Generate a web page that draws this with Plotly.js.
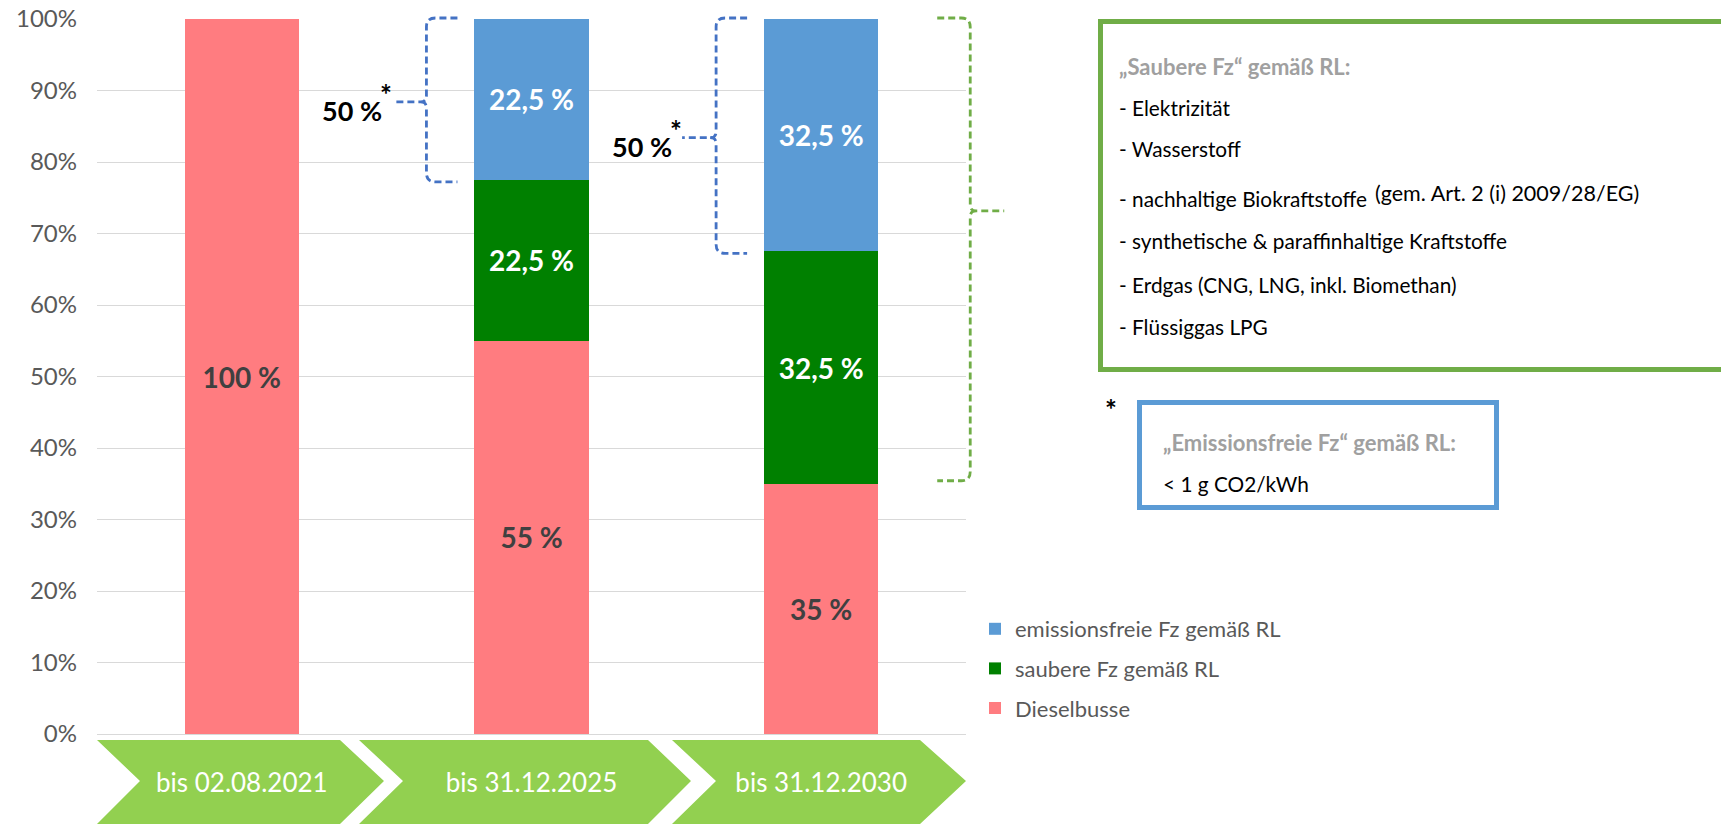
<!DOCTYPE html>
<html><head><meta charset="utf-8">
<script src="https://cdn.plot.ly/plotly-3.0.1.min.js"></script>
<style>html,body{margin:0;padding:0;background:#fff;} #chart{width:1721px;height:824px;}</style>
</head><body><div id="chart"></div>
<script>
// ---------- data ----------
const categories = ['bis 02.08.2021', 'bis 31.12.2025', 'bis 31.12.2030'];
const dieselbusse = [100, 55, 35];
const saubereFz = [0, 22.5, 32.5];
const emissionsfreieFz = [0, 22.5, 32.5];
const seriesNames = ['Dieselbusse', 'saubere Fz gemäß RL', 'emissionsfreie Fz gemäß RL'];
const yTickValues = [0, 10, 20, 30, 40, 50, 60, 70, 80, 90, 100];
const yTickLabels = ['0%', '10%', '20%', '30%', '40%', '50%', '60%', '70%', '80%', '90%', '100%'];
const bracketLabels = ['50 %', '50 %'];
const saubereTitle = '„Saubere Fz“ gemäß RL:';
const saubereItems = ['- Elektrizität', '- Wasserstoff', '- nachhaltige Biokraftstoffe',
  '- synthetische & paraffinhaltige Kraftstoffe', '- Erdgas (CNG, LNG, inkl. Biomethan)', '- Flüssiggas LPG'];
const saubereNote = '(gem. Art. 2 (i) 2009/28/EG)';
const emissionTitle = '„Emissionsfreie Fz“ gemäß RL:';
const emissionText = '< 1 g CO2/kWh';

// ---------- geometry helpers ----------
const W = 1721, H = 824, PL = 97, PR = 966, PT = 19, PB = 734;
const pw = PR - PL, ph = PB - PT;
const px2x = px => (px - PL) / pw;
const px2y = py => (PB - py) / ph;
const P = (px, py) => px2x(px).toFixed(5) + ',' + px2y(py).toFixed(5);
const catCenter = i => PL + pw * (i + 0.5) / categories.length;
const yPx = v => PB - v / 100 * ph;
const bargap = 0.606;
const halfBar = pw / categories.length * (1 - bargap) / 2;

const FONT = 'Lato, "Open Sans", sans-serif';
const fmt = arr => arr.map(v => v ? String(v).replace('.', ',') + ' %' : '');

const mk = (y, name, color, txtColor, grp, rank) => ({
  type: 'bar', x: categories, y: y, name: name, legendgroup: grp, legendrank: rank,
  marker: {color: color, line: {width: 0}},
  text: fmt(y), textposition: 'inside', insidetextanchor: 'middle',
  constraintext: 'none',
  textfont: {family: FONT, size: 28, color: txtColor, weight: 'bold'},
  hoverinfo: 'skip'
});

const traces = [
  mk(dieselbusse, seriesNames[0], '#FF7C80', '#404040', 'a', 3),
  mk(saubereFz, seriesNames[1], '#008000', '#FFFFFF', 'b', 2),
  mk(emissionsfreieFz, seriesNames[2], '#5B9BD5', '#FFFFFF', 'c', 1)
];

// ---------- shapes ----------
const shapes = [];
// chevrons along the x axis
const chev = [[97, 140, 340, 384], [359, 403, 648, 691], [672, 716, 920, 966]];
const cTop = 740, cMid = 781, cBot = 824;
chev.forEach(c => {
  shapes.push({type: 'path', xref: 'paper', yref: 'paper', layer: 'below',
    path: `M${P(c[0], cTop)} L${P(c[2], cTop)} L${P(c[3], cMid)} L${P(c[2], cBot)} L${P(c[0], cBot)} L${P(c[1], cMid)} Z`,
    fillcolor: '#92D050', line: {width: 0}});
});

function brace(spine, end, tail, yT, yB, yM, color) {
  const dir = Math.sign(end - spine); // +1 opens right
  const r = 9, k = 6;
  const path = `M${P(end, yT)} L${P(spine + dir * r, yT)} Q${P(spine, yT)} ${P(spine, yT + r)} ` +
    `L${P(spine, yM - k)} Q${P(spine, yM)} ${P(spine - dir * k, yM)} L${P(tail, yM)} ` +
    `M${P(spine - dir * k, yM)} Q${P(spine, yM)} ${P(spine, yM + k)} ` +
    `L${P(spine, yB - r)} Q${P(spine, yB)} ${P(spine + dir * r, yB)} L${P(end, yB)}`;
  return {type: 'path', xref: 'paper', yref: 'paper', path: path,
    line: {color: color, width: 2.8, dash: '7px,4px'}};
}

const annotations = [];
// blue braces (emission free share) for categories 1 and 2
[1, 2].forEach((i, j) => {
  const total = dieselbusse[i] + saubereFz[i] + emissionsfreieFz[i];
  const yT = yPx(total) - 1, yB = yPx(total - emissionsfreieFz[i]) + 2;
  const yM = (yT + yB) / 2 + 2;
  const end = catCenter(i) - halfBar - 17;
  const spine = end - 31, tail = spine - 34;
  shapes.push(brace(spine, end, tail, yT, yB, yM, '#4472C4'));
  annotations.push({xref: 'paper', yref: 'paper', x: px2x(tail - 8), y: px2y(yM + 9),
    xanchor: 'right', yanchor: 'middle', showarrow: false, text: bracketLabels[j],
    font: {family: FONT, size: 27, color: '#000000', weight: 'bold'}});
  annotations.push({xref: 'paper', yref: 'paper', x: px2x(tail - 6), y: px2y(yM - 8),
    xanchor: 'center', yanchor: 'middle', showarrow: false, text: '*',
    font: {family: FONT, size: 28, color: '#000000', weight: 'bold'}});
});
// green brace (clean vehicles incl. emission free) for last category
{
  const i = 2;
  const total = dieselbusse[i] + saubereFz[i] + emissionsfreieFz[i];
  const yT = yPx(total) - 1, yB = yPx(dieselbusse[i]) - 3;
  const yM = yT + (yB - yT) * 0.417;
  const end = catCenter(i) + halfBar + 59;
  const spine = end + 33, tail = spine + 34;
  shapes.push(brace(spine, end, tail, yT, yB, yM, '#70AD47'));
}

// info boxes
shapes.push({type: 'rect', xref: 'paper', yref: 'paper', x0: px2x(1100.5), x1: px2x(1740), y0: px2y(21.5), y1: px2y(369.5),
  line: {color: '#70AD47', width: 5}, fillcolor: 'rgba(0,0,0,0)'});
shapes.push({type: 'rect', xref: 'paper', yref: 'paper', x0: px2x(1139.5), x1: px2x(1496.5), y0: px2y(402.5), y1: px2y(507.5),
  line: {color: '#5B9BD5', width: 5}, fillcolor: 'rgba(0,0,0,0)'});

const tx = 1117, ITEM = 20.8, HEAD = 22;
annotations.push({xref: 'paper', yref: 'paper', x: px2x(tx), y: px2y(66), xanchor: 'left', yanchor: 'middle',
  showarrow: false, text: saubereTitle, font: {family: FONT, size: HEAD, color: '#A0A0A0', weight: 'bold'}});
const itemY = [108, 149, 198, 241, 284, 326];
saubereItems.forEach((t, k) => annotations.push({xref: 'paper', yref: 'paper', x: px2x(tx), y: px2y(itemY[k]),
  xanchor: 'left', yanchor: 'middle', showarrow: false, text: t, font: {family: FONT, size: ITEM, color: '#000000'}}));
annotations.push({xref: 'paper', yref: 'paper', x: px2x(1373), y: px2y(193), xanchor: 'left', yanchor: 'middle',
  showarrow: false, text: saubereNote, font: {family: FONT, size: 21.5, color: '#000000'}});
annotations.push({xref: 'paper', yref: 'paper', x: px2x(1111), y: px2y(409), xanchor: 'center', yanchor: 'middle',
  showarrow: false, text: '*', font: {family: FONT, size: 28, color: '#000000', weight: 'bold'}});
annotations.push({xref: 'paper', yref: 'paper', x: px2x(1161), y: px2y(442), xanchor: 'left', yanchor: 'middle',
  showarrow: false, text: emissionTitle, font: {family: FONT, size: HEAD, color: '#A0A0A0', weight: 'bold'}});
annotations.push({xref: 'paper', yref: 'paper', x: px2x(1161), y: px2y(483), xanchor: 'left', yanchor: 'middle',
  showarrow: false, text: emissionText, font: {family: FONT, size: ITEM, color: '#000000'}});

const layout = {
  width: W, height: H,
  margin: {l: PL, r: W - PR, t: PT, b: H - PB, pad: 0},
  paper_bgcolor: '#FFFFFF', plot_bgcolor: '#FFFFFF',
  barmode: 'stack', bargap: bargap,
  font: {family: FONT, color: '#595959'},
  showlegend: true,
  legend: {x: px2x(975), y: px2y(608), xanchor: 'left', yanchor: 'top',
    traceorder: 'grouped', tracegroupgap: 8,
    font: {family: FONT, size: 22, color: '#595959'}, bgcolor: 'rgba(0,0,0,0)'},
  xaxis: {type: 'category', showgrid: false, zeroline: false, showline: false, ticks: '',
    tickfont: {family: FONT, size: 26, color: '#FFFFFF'}, ticklabelstandoff: 31, automargin: false, fixedrange: true},
  yaxis: {range: [0, 100], tickmode: 'array', tickvals: yTickValues, ticktext: yTickLabels,
    showgrid: true, gridcolor: '#D9D9D9', gridwidth: 1,
    zeroline: true, zerolinecolor: '#D9D9D9', zerolinewidth: 1, showline: false, ticks: '',
    tickfont: {family: FONT, size: 24, color: '#595959'}, ticklabelstandoff: 19, automargin: false, fixedrange: true},
  shapes: shapes,
  annotations: annotations,
  hovermode: false
};

Plotly.newPlot('chart', traces, layout, {displayModeBar: false, staticPlot: true});
</script></body></html>
